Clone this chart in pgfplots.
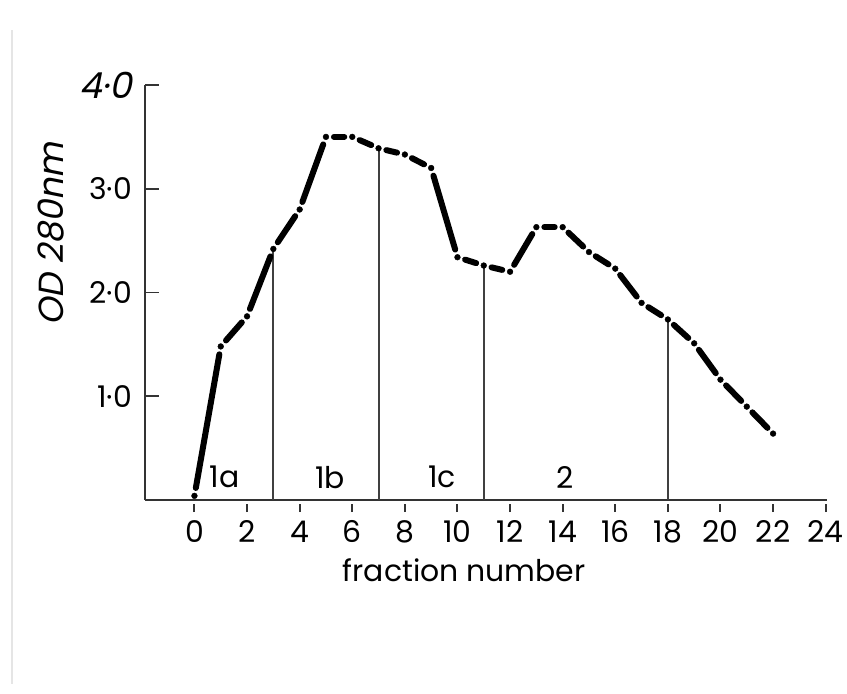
\documentclass[border=0pt]{standalone}
\usepackage{fontspec}
\setmainfont{Poppins}
\newfontfamily\slfont{Poppins}[FakeSlant=0.2]
\usepackage{pgfplots}
\usepackage{pgfplotstable}
\pgfplotsset{compat=1.18}

\pgfplotstableread{
x y
0 0.04
1 1.48
2 1.77
3 2.42
4 2.80
5 3.50
6 3.50
7 3.39
8 3.33
9 3.20
10 2.34
11 2.26
12 2.20
13 2.63
14 2.63
15 2.39
16 2.23
17 1.90
18 1.74
19 1.51
20 1.16
21 0.90
22 0.64
}\curve

\pgfplotstableread{
x y
3 2.42
7 3.39
11 2.26
18 1.74
}\cuts

\begin{document}
\begin{tikzpicture}
\path[use as bounding box] (0,0) rectangle (847bp,694bp);
\draw[black!10, line width=1.5bp] (12bp,10bp) -- (12bp,664bp);
\begin{axis}[
  at={(145bp,194bp)}, anchor=south west,
  scale only axis, width=682bp, height=415bp,
  xmin=-1.88, xmax=24.05, ymin=0, ymax=4,
  axis x line=bottom, axis y line=left,
  axis line style={-, line width=2bp, black!80},
  clip=false,
  xtick={0,2,...,24},
  ytick={1,2,3,4},
  yticklabels={1·0, 2·0, 3·0, {\fontsize{36}{36}\selectfont\slfont 4·0}},
  /pgf/number format/assume math mode=true,
  tick align=outside,
  major tick length=8bp,
  xtick style={/pgfplots/major tick length=8bp, yshift=-4bp, line width=2bp, black!80},
  ytick style={/pgfplots/major tick length=14bp, xshift=14bp, line width=1.8bp, black!80},
  tick label style={font=\fontsize{30}{34}\selectfont},
  xticklabel style={anchor=base, yshift=-34bp},
  yticklabel style={anchor=east, inner sep=0pt, xshift=-5bp},
  xlabel={fraction number},
  xlabel style={font=\fontsize{30}{34}\selectfont, at={(axis description cs:0.468,-0.169)}, anchor=center},
  ylabel={\slfont OD 280nm},
  ylabel style={font=\fontsize{35}{38}\selectfont, at={(axis description cs:-0.138,0.641)}, anchor=center, rotate=0},
]
\addplot[ycomb, black!75, line width=2bp, mark=none] table {\cuts};
\pgfplotsinvokeforeach{0,...,21}{
  \addplot[black, line width=6bp, line cap=round, shorten >=8bp, shorten <=8bp, mark=none,
    x filter/.expression={(x>#1-0.5 && x<#1+1.5) ? x : nan}] table {\curve};
}
\addplot[only marks, mark=*, mark size=2.9bp, black] table {\curve};
\node[font=\fontsize{30}{34}\selectfont] at (axis cs:1.14,0.22) {1a};
\node[font=\fontsize{30}{34}\selectfont] at (axis cs:5.15,0.22) {1b};
\node[font=\fontsize{30}{34}\selectfont] at (axis cs:9.41,0.22) {1c};
\node[font=\fontsize{30}{34}\selectfont] at (axis cs:14.1,0.22) {2};
\end{axis}
\end{tikzpicture}
\end{document}
